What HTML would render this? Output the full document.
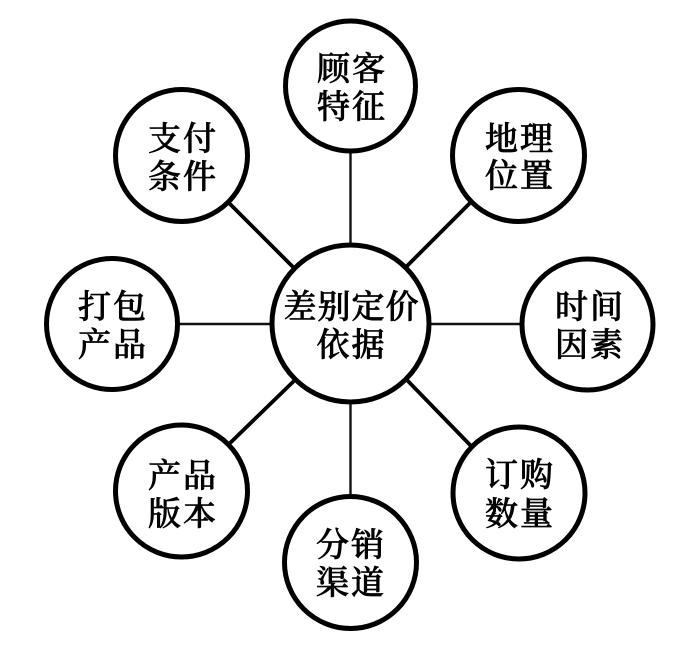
<!DOCTYPE html>
<html><head><meta charset="utf-8">
<style>html,body{margin:0;padding:0;background:#fff}svg{display:block}
text{font-family:"Liberation Serif","Noto Serif CJK SC","Noto Sans CJK SC",serif;fill:#000;stroke:#000;stroke-width:.7;text-anchor:middle;font-weight:500;letter-spacing:2px}
.c{letter-spacing:1px}</style>
</head><body>
<svg width="687" height="652" viewBox="0 0 687 652" xmlns="http://www.w3.org/2000/svg">
<g stroke="#111" stroke-width="2.4" fill="none">
<line x1="350.5" y1="150" x2="350.5" y2="250"/>
<line x1="350.5" y1="398" x2="350.5" y2="500"/>
<line x1="176" y1="324" x2="275" y2="324"/>
<line x1="427" y1="324" x2="525" y2="324"/>
</g>
<g stroke="#000" stroke-width="3.8" fill="none">
<line x1="226" y1="200" x2="296" y2="270"/>
<line x1="473" y1="200" x2="405" y2="268"/>
<line x1="227" y1="446" x2="296" y2="379"/>
<line x1="473" y1="448" x2="405" y2="378"/>
</g>
<g stroke="#000" stroke-width="5" fill="#fff">
<circle cx="350.5" cy="323.5" r="78.5"/>
<circle cx="350.5" cy="86" r="65"/>
<circle cx="181.5" cy="155.5" r="66"/>
<circle cx="518.5" cy="155.5" r="66"/>
<circle cx="112" cy="324" r="65.5"/>
<circle cx="587.5" cy="324.5" r="65.5"/>
<circle cx="181.5" cy="491" r="66"/>
<circle cx="519" cy="493" r="66"/>
<circle cx="350.5" cy="562.5" r="66"/>
</g>
<g font-size="33">
<text x="352" y="80">顾客</text><text x="352" y="118">特征</text>
<text x="183" y="150">支付</text><text x="183" y="188">条件</text>
<text x="520" y="150">地理</text><text x="520" y="187">位置</text>
<text x="113" y="318">打包</text><text x="113" y="356">产品</text>
<text x="590" y="318">时间</text><text x="590" y="356">因素</text>
<text x="183" y="487">产品</text><text x="183" y="525">版本</text>
<text x="520" y="486">订购</text><text x="520" y="525">数量</text>
<text x="351" y="556">分销</text><text x="351" y="594">渠道</text>
<text class="c" x="351.5" y="318">差别定价</text><text x="351.5" y="356">依据</text>
</g>
</svg>
</body></html>
